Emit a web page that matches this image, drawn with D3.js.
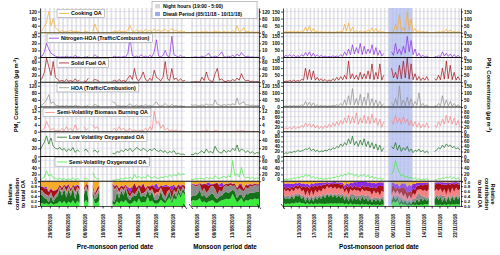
<!DOCTYPE html>
<html>
<head>
<meta charset="utf-8">
<script src="https://cdn.jsdelivr.net/npm/d3@7"></script>
<style>
body { margin: 0; background: #fff; }
text { font-family: Arial, "Liberation Sans", sans-serif; }
</style>
</head>
<body>
<svg class="chart" width="500" height="255"></svg>
<script>
// PMF factor time series, one value every 12 hours (null = no data).
// Pre-monsoon, from 26/05/2018 18:00
var preCOA = [8, 15, 35, 60, 120, 40, 80, 30, 18, 6,
    12, 5, 9, 4, 14, 6, 10, 5, 8, null,
    11, 4, 7, null, 9, 50, 12, 6, null, null,
    null, null, null, 5, 10, 4, 13, 6, 9, 5,
    15, 40, 10, 6, 18, 7, 12, 5, 20, 8,
    14, 6, 22, 9, 16, 7, 12, 20, 8, 11,
    25, 9, 14, 6, 10, 5, 8];
var preNHOA = [1, 2, 8, 20, 12, 6, 4, 2, 1, 0.5,
    1, 0.5, 2, 0.5, 1, 0.3, 3, 0.5, 1, null,
    1, 0.3, 2, null, 1, 4, 1, 0.5, null, null,
    null, null, null, 0.5, 2, 0.5, 1, 0.3, 1.5, 0.5,
    6, 28, 3, 1, 2, 0.5, 4, 1, 2, 0.5,
    3, 1, 8, 25, 2, 1, 3, 10, 2, 1,
    30, 4, 2, 1, 3, 0.5, 1];
var preSFOA = [5, 12, 30, 70, 45, 20, 60, 15, 8, 3,
    6, 2, 8, 3, 5, 2, 10, 3, 6, null,
    4, 2, 12, null, 5, 8, 6, 2, null, null,
    null, null, null, 3, 6, 2, 8, 3, 5, 2,
    12, 20, 8, 40, 10, 4, 15, 30, 8, 3,
    12, 5, 35, 14, 10, 4, 15, 60, 10, 5,
    40, 8, 12, 4, 10, 3, 6];
var preHOA = [8, 12, 25, 40, 70, 20, 30, 10, 8, 4,
    7, 3, 9, 4, 6, 3, 10, 4, 7, null,
    5, 3, 12, null, 6, 15, 8, 4, null, null,
    null, null, null, 30, 25, 6, 8, 4, 7, 3,
    10, 18, 8, 5, 12, 4, 9, 6, 14, 5,
    10, 4, 15, 30, 10, 5, 9, 20, 7, 4,
    15, 6, 9, 4, 8, 3, 5];
var preBBOA = [0.5, 1, 2, 6, 3, 1, 2, 0.5, 1, 0.3,
    2, 0.5, 3, 1, 2, 0.5, 4, 1, 2, null,
    3, 1, 2, null, 4, 2, 3, 1, null, null,
    null, null, null, 1, 2, 0.5, 3, 1, 2, 0.5,
    1, 2, 0.5, 1, 0.5, 0.3, 1, 0.5, 2, 0.5,
    3, 1, 12, 5, 6, 2, 4, 1, 2, 0.5,
    1, 0.5, 1, 0.3, 0.5, 0.2, 0.3];
var preLVOOA = [15, 25, 35, 50, 30, 45, 25, 20, 18, 22,
    15, 20, 12, 18, 14, 22, 10, 16, 12, null,
    14, 18, 10, null, 12, 16, 10, 14, null, null,
    null, null, null, 8, 6, 12, 10, 15, 12, 18,
    14, 20, 12, 16, 22, 18, 14, 20, 16, 12,
    18, 14, 20, 15, 12, 16, 10, 14, 8, 12,
    10, 14, 6, 8, 5, 6, 4];
var preSVOOA = [5, 8, 12, 30, 15, 20, 10, 8, 6, 9,
    5, 8, 4, 7, 5, 10, 4, 8, 5, null,
    6, 9, 5, null, 25, 12, 6, 8, null, null,
    null, null, null, 4, 3, 6, 5, 8, 6, 10,
    8, 12, 6, 20, 10, 15, 8, 12, 10, 18,
    12, 9, 14, 10, 8, 12, 10, 15, 12, 18,
    14, 20, 15, 25, 18, 22, 20];

// Monsoon, from 03/08/2018 18:00
var monCOA = [4, 2, 5, 3, 2, 6, 3, 8, 2, 5, 3, 10, 4, 6, 2, 8, 3, 5, 2, 12,
    4, 40, 6, 10, 30, 5, 8, 3, 6, 2, 4, 3];
var monNHOA = [0.5, 0.3, 1, 0.5, 0.3, 2, 0.5, 3, 6, 1, 0.5, 2, 1, 4, 8, 1, 0.5, 2, 1, 3,
    1, 5, 2, 7, 3, 1, 2, 0.5, 1, 0.3, 0.5, 0.3];
var monSFOA = [1, 0.5, 2, 1, 0.5, 15, 5, 30, 8, 4, 2, 25, 40, 6, 10, 3, 2, 5, 3, 8,
    4, 12, 6, 25, 10, 4, 6, 2, 3, 1, 2, 1];
var monHOA = [14, 9, 13, 8, 7, 12, 8, 18, 10, 14, 9, 40, 14, 11, 8, 14, 9, 15, 11, 18,
    12, 50, 14, 22, 30, 11, 13, 8, 11, 7, 9, 7];
var monBBOA = [0.2, 0.1, 0.3, 0.1, 0.1, 0.5, 0.2, 1, 0.3, 0.2, 0.1, 0.8, 0.5, 0.2, 0.3, 0.1, 0.1, 0.2, 0.1, 0.3,
    0.2, 0.5, 0.3, 0.6, 0.4, 0.2, 0.3, 0.1, 0.2, 0.1, 0.1, 0.1];
var monLVOOA = [5, 4, 8, 6, 10, 14, 8, 18, 10, 12, 8, 25, 14, 10, 8, 16, 10, 14, 12, 20,
    14, 28, 12, 18, 15, 10, 14, 8, 12, 6, 10, 8];
var monSVOOA = [6, 5, 8, 6, 9, 8, 6, 11, 8, 10, 7, 16, 10, 8, 11, 14, 10, 16, 12, 60,
    16, 22, 12, 40, 15, 10, 12, 8, 11, 7, 10, 8];

// Post-monsoon, from 09/10/2018 06:00
var postCOA = [3, 8, 4, 10, 5, 12, 4, 9, 3, 15,
    8, 40, 10, 50, 6, 30, 5, 12, 4, 8,
    3, 6, 2, 7, 3, 5, 2, 8, 4, 10,
    6, 60, 12, 70, 8, 40, 5, 15, 4, 12,
    3, 10, 5, 20, 6, 35, 8, 30, 5, 15,
    4, 10, null, null, null, 20, 8, 60, 15, 130,
    10, 40, 12, 150, 20, 100, 8, 30, 5, 15,
    4, 10, 3, 8, 2, null, null, 6, 3, 8,
    4, 12, 6, 25, 5, 20, 4, 10, 3, 8,
    4];
var postNHOA = [5, 15, 8, 20, 6, 18, 5, 12, 6, 20,
    10, 35, 12, 40, 8, 30, 6, 20, 5, 15,
    4, 10, 3, 8, 4, 12, 5, 10, 6, 20,
    8, 40, 15, 60, 20, 90, 25, 70, 30, 100,
    20, 80, 25, 60, 30, 90, 20, 70, 15, 50,
    10, 30, null, null, null, 40, 15, 100, 25, 60,
    20, 80, 30, 150, 40, 120, 20, 60, 10, 30,
    5, 15, 4, 10, 3, null, null, 8, 5, 12,
    6, 40, 10, 30, 8, 25, 5, 20, 4, 15,
    5];
var postSFOA = [4, 8, 6, 12, 5, 16, 6, 12, 8, 20,
    15, 100, 20, 90, 18, 80, 15, 35, 12, 25,
    8, 20, 6, 16, 8, 25, 12, 35, 15, 40,
    18, 50, 22, 150, 25, 60, 22, 50, 18, 70,
    22, 60, 25, 80, 22, 130, 18, 70, 22, 130,
    15, 50, null, null, null, 100, 30, 70, 22, 120,
    25, 150, 30, 170, 22, 130, 18, 60, 15, 40,
    12, 32, 15, 40, 12, null, null, 25, 15, 50,
    18, 100, 22, 150, 25, 120, 18, 70, 15, 40,
    15];
var postHOA = [4, 8, 5, 10, 4, 12, 5, 8, 6, 16,
    8, 40, 10, 35, 8, 30, 6, 16, 5, 12,
    4, 10, 3, 8, 5, 12, 6, 16, 8, 25,
    10, 50, 12, 80, 15, 130, 14, 60, 12, 90,
    10, 70, 12, 100, 10, 60, 8, 50, 6, 40,
    6, 25, null, null, null, 30, 8, 60, 12, 150,
    10, 50, 8, 70, 12, 60, 8, 40, 12, 100,
    6, 25, 5, 16, 4, null, null, 8, 6, 25,
    8, 80, 10, 50, 8, 40, 6, 25, 5, 16,
    5];
var postBBOA = [10, 15, 12, 18, 10, 22, 12, 18, 15, 25,
    18, 35, 22, 32, 18, 30, 15, 25, 12, 22,
    12, 25, 15, 30, 18, 35, 22, 40, 25, 45,
    30, 55, 35, 65, 32, 60, 35, 75, 30, 55,
    35, 65, 32, 60, 30, 70, 35, 55, 25, 50,
    18, 40, null, null, null, 45, 30, 65, 35, 55,
    30, 60, 35, 50, 25, 45, 22, 40, 18, 35,
    15, 30, 18, 35, 15, null, null, 25, 18, 40,
    25, 50, 30, 65, 35, 60, 30, 55, 25, 45,
    18];
var postLVOOA = [10, 15, 12, 18, 15, 20, 18, 25, 20, 22,
    25, 30, 28, 35, 22, 30, 20, 25, 18, 22,
    20, 25, 22, 30, 25, 35, 30, 40, 35, 50,
    40, 55, 45, 70, 50, 80, 45, 60, 40, 65,
    45, 70, 40, 60, 35, 55, 30, 50, 25, 45,
    20, 35, null, null, null, 40, 30, 55, 25, 45,
    20, 35, 25, 40, 20, 30, 15, 25, 20, 30,
    18, 25, 15, 22, 12, null, null, 20, 25, 35,
    30, 45, 35, 50, 40, 45, 35, 40, 30, 35,
    25];
var postSVOOA = [4, 6, 5, 8, 6, 10, 8, 12, 10, 15,
    12, 20, 15, 18, 10, 14, 8, 12, 6, 10,
    5, 8, 6, 10, 8, 12, 10, 15, 12, 18,
    15, 20, 18, 25, 20, 22, 15, 20, 12, 18,
    15, 20, 12, 18, 10, 15, 8, 12, 6, 10,
    5, 8, null, null, null, 20, 30, 60, 40, 25,
    15, 20, 10, 15, 8, 12, 6, 10, 5, 8,
    4, 6, 5, 8, 4, null, null, 5, 4, 8,
    6, 10, 8, 12, 10, 14, 8, 12, 6, 10,
    5];

var factors = ["COA", "NHOA", "SFOA", "HOA", "BBOA", "LVOOA", "SVOOA"];
var factorLabels = ["Cooking OA", "Nitrogen-HOA (Traffic/Combustion)", "Solid Fuel OA",
    "HOA (Traffic/Combustion)", "Semi-Volatility Biomass Burning OA",
    "Low Volatility Oxygenated OA", "Semi-Volatility Oxygenated OA"];
var factorColors = ["#f5ab2a", "#8a2be2", "#a50f15", "#8c8c8c", "#f58282", "#15701a", "#3cec3c"];
var stackOrder = ["SVOOA", "LVOOA", "HOA", "BBOA", "SFOA", "NHOA", "COA"];

// Y axis ticks, left block (pre-monsoon + monsoon) and right block (post-monsoon)
var leftTicks = [[0, 40, 80, 120], [0, 10, 20, 30], [0, 20, 40, 60], [0, 40, 80, 120], [0, 4, 8, 12], [0, 20, 40], [0, 20, 40, 60]];
var leftMax = [140, 35, 72, 140, 14.5, 60, 72];
var rightTicks = [[0, 50, 100, 150], [0, 50, 100, 150], [0, 50, 100, 150], [0, 50, 100, 150], [0, 20, 40, 60, 80], [0, 20, 40, 60, 80], [0, 20, 40, 60]];
var rightMax = [175, 175, 175, 175, 98, 98, 72];
var relTicks = [0, 0.2, 0.4, 0.6, 0.8, 1.0];

var diwali = [new Date(2018, 10, 5), new Date(2018, 10, 11)];

// Layout
var top0 = 8, rowH = 24.75;
var leftX = [40, 259], rightX = [283, 461];
var legendX = [57, 47, 57, 57, 43, 55, 55];
var fontFam = "Arial, 'Liberation Sans', sans-serif";

function rowTop(r) { return top0 + r * rowH; }
function rowBottom(r) { return top0 + (r + 1) * rowH; }

var periods = [
    {id: "pre", side: "left", x0: 40, x1: 185, start: new Date(2018, 4, 26, 18), end: new Date(2018, 5, 28, 18),
        first: new Date(2018, 4, 26, 18), anchor: new Date(2018, 4, 29),
        series: [preCOA, preNHOA, preSFOA, preHOA, preBBOA, preLVOOA, preSVOOA],
        title: "Pre-monsoon period date", titleX: 115},
    {id: "mon", side: "left", x0: 191, x1: 259, start: new Date(2018, 7, 3, 18), end: new Date(2018, 7, 19, 6),
        first: new Date(2018, 7, 3, 18), anchor: new Date(2018, 7, 5),
        series: [monCOA, monNHOA, monSFOA, monHOA, monBBOA, monLVOOA, monSVOOA],
        title: "Monsoon period date", titleX: 225},
    {id: "post", side: "right", x0: 283, x1: 461, start: new Date(2018, 9, 9, 0), end: new Date(2018, 10, 23, 12),
        first: new Date(2018, 9, 9, 6), anchor: new Date(2018, 9, 13),
        series: [postCOA, postNHOA, postSFOA, postHOA, postBBOA, postLVOOA, postSVOOA],
        title: "Post-monsoon period date", titleX: 379}
];

var svg = d3.select(".chart");
var defs = svg.append("defs");
var bgLayer = svg.append("g");
var gridLayer = svg.append("g");
var dataLayer = svg.append("g");
var axisLayer = svg.append("g");
var labelLayer = svg.append("g");

var fmtDate = d3.timeFormat("%d/%m/%Y");
var fmtRel = d3.format(".1f");

function yScale(side, r) {
    if (r === 7) return d3.scaleLinear().domain([0, 1]).range([rowBottom(r), rowTop(r)]);
    var max = side === "left" ? leftMax[r] : rightMax[r];
    return d3.scaleLinear().domain([0, max]).range([rowBottom(r), rowTop(r)]);
}

periods.forEach(function (p) {
    var x = d3.scaleTime().domain([p.start, p.end]).range([p.x0, p.x1]);
    var n = p.series[0].length;
    var times = d3.range(n).map(function (i) { return d3.timeHour.offset(p.first, 12 * i); });

    // Clip paths for the whole period and for each row
    defs.append("clipPath").attr("id", "clip-" + p.id).append("rect")
        .attr("x", p.x0).attr("y", top0).attr("width", p.x1 - p.x0).attr("height", rowH * 8);
    d3.range(8).forEach(function (r) {
        defs.append("clipPath").attr("id", "clip-" + p.id + "-" + r).append("rect")
            .attr("x", p.x0).attr("y", rowTop(r)).attr("width", p.x1 - p.x0).attr("height", rowH);
    });

    // Night hours 19:00 - 5:00
    var days = d3.timeDay.range(d3.timeDay.offset(d3.timeDay.floor(p.start), -1), p.end);
    bgLayer.append("g").attr("clip-path", "url(#clip-" + p.id + ")")
        .selectAll("rect")
        .data(days)
        .enter()
        .append("rect")
        .attr("x", function (d) { return x(d3.timeHour.offset(d, 19)); })
        .attr("width", function (d) { return x(d3.timeHour.offset(d, 29)) - x(d3.timeHour.offset(d, 19)); })
        .attr("y", top0)
        .attr("height", rowH * 8)
        .attr("fill", "#e3e3e3");

    // Diwali period
    if (p.id === "post") {
        bgLayer.append("rect")
            .attr("x", x(diwali[0])).attr("width", x(diwali[1]) - x(diwali[0]))
            .attr("y", top0).attr("height", rowH * 8)
            .attr("fill", "#a9b8f0").attr("opacity", 0.7);
    }

    // Horizontal grid lines
    d3.range(7).forEach(function (r) {
        var y = yScale(p.side, r);
        var ticks = p.side === "left" ? leftTicks[r] : rightTicks[r];
        gridLayer.selectAll(null)
            .data(ticks.filter(function (t) { return t > 0; }))
            .enter()
            .append("line")
            .attr("x1", p.x0).attr("x2", p.x1)
            .attr("y1", function (d) { return y(d); })
            .attr("y2", function (d) { return y(d); })
            .attr("stroke", "#cacaf2")
            .attr("stroke-width", 0.5);
    });

    // Concentration lines
    factors.forEach(function (f, k) {
        var y = yScale(p.side, k);
        var pts = times.map(function (t, i) { return {t: t, v: p.series[k][i]}; });
        var line = d3.line()
            .defined(function (d) { return d.v != null; })
            .x(function (d) { return x(d.t); })
            .y(function (d) { return y(d.v); });
        dataLayer.append("path")
            .attr("clip-path", "url(#clip-" + p.id + "-" + k + ")")
            .attr("d", line(pts))
            .attr("fill", "none")
            .attr("stroke", factorColors[k])
            .attr("stroke-width", 0.7);
    });

    // Relative contribution to total OA
    var rows = times.map(function (t, i) {
        var o = {t: t, gap: false}, total = 0;
        factors.forEach(function (f, k) {
            var v = p.series[k][i];
            if (v == null) o.gap = true;
            o[f] = v == null ? 0 : v;
            total += o[f];
        });
        factors.forEach(function (f) { o[f] = total > 0 ? o[f] / total : 0; });
        return o;
    });
    var yRel = yScale(p.side, 7);
    var area = d3.area()
        .defined(function (d) { return !d.data.gap; })
        .x(function (d) { return x(d.data.t); })
        .y0(function (d) { return yRel(d[0]); })
        .y1(function (d) { return yRel(d[1]); });
    dataLayer.append("g")
        .attr("clip-path", "url(#clip-" + p.id + "-7)")
        .selectAll("path")
        .data(d3.stack().keys(stackOrder)(rows))
        .enter()
        .append("path")
        .attr("d", area)
        .attr("fill", function (d) { return factorColors[factors.indexOf(d.key)]; });

    if (p.id === "post") {
        dataLayer.append("rect")
            .attr("x", x(diwali[0])).attr("width", x(diwali[1]) - x(diwali[0]))
            .attr("y", rowTop(7)).attr("height", rowH)
            .attr("fill", "#a9b8f0").attr("opacity", 0.3);
    }

    // Date axis: ticks every 2 days, labels every 4 days
    var tickDays = d3.timeDay.range(d3.timeDay.ceil(p.start), p.end).filter(function (d) {
        return Math.abs(Math.round((d - p.anchor) / 864e5)) % 2 === 0;
    });
    var xAxis = axisLayer.append("g")
        .attr("transform", "translate(0," + rowBottom(7) + ")")
        .call(d3.axisBottom(x)
            .tickValues(tickDays)
            .tickSize(2.5)
            .tickSizeOuter(0)
            .tickFormat(function (d) {
                var diff = Math.round((d - p.anchor) / 864e5);
                return diff >= 0 && diff % 4 === 0 ? fmtDate(d) : "";
            }));
    styleAxis(xAxis);
    xAxis.selectAll("text")
        .attr("transform", "rotate(-90)")
        .attr("x", -8)
        .attr("y", 0)
        .attr("dy", "0.35em")
        .style("text-anchor", "end");

    labelLayer.append("text")
        .attr("x", p.titleX).attr("y", 249)
        .attr("text-anchor", "middle")
        .attr("font-size", 6.3).attr("font-weight", "bold")
        .text(p.title);
});

function styleAxis(g) {
    g.attr("font-size", 4.8).attr("font-family", fontFam).attr("font-weight", "bold");
    g.selectAll("path, line").attr("stroke", "#000").attr("stroke-width", 0.7);
    g.selectAll("text").attr("fill", "#111");
}

// Y axes and panel dividers
d3.range(8).forEach(function (r) {
    var yl = yScale("left", r), yr = yScale("right", r);
    var tl = r === 7 ? relTicks : leftTicks[r];
    var tr = r === 7 ? relTicks : rightTicks[r];
    var fmt = r === 7 ? fmtRel : d3.format("d");
    var blank = function () { return ""; };
    var axes = [
        axisLayer.append("g").attr("transform", "translate(" + leftX[0] + ",0)")
            .call(d3.axisLeft(yl).tickValues(tl).tickSize(2).tickSizeOuter(0).tickPadding(1).tickFormat(fmt)),
        axisLayer.append("g").attr("transform", "translate(" + leftX[1] + ",0)")
            .call(d3.axisRight(yl).tickValues(r === 7 ? [] : tl).tickSize(2).tickSizeOuter(0).tickPadding(1).tickFormat(r === 7 ? blank : fmt)),
        axisLayer.append("g").attr("transform", "translate(" + rightX[0] + ",0)")
            .call(d3.axisLeft(yr).tickValues(r === 7 ? [] : tr).tickSize(2).tickSizeOuter(0).tickPadding(1).tickFormat(r === 7 ? blank : fmt)),
        axisLayer.append("g").attr("transform", "translate(" + rightX[1] + ",0)")
            .call(d3.axisRight(yr).tickValues(tr).tickSize(2).tickSizeOuter(0).tickPadding(1).tickFormat(fmt))
    ];
    axes.forEach(function (g) {
        styleAxis(g);
        if (r === 7) g.attr("font-size", 4.4);
        // keep the "1.0" of the relative panel and the "0" above it apart
        g.selectAll(".tick text").attr("dy", function (d) {
            if (r === 7 && d === 1) return "0.55em";
            if (r === 6 && d === 0) return "-0.25em";
            return "0.32em";
        });
    });

    if (r < 7) {
        [leftX, rightX].forEach(function (ex) {
            axisLayer.append("line")
                .attr("x1", ex[0]).attr("x2", ex[1])
                .attr("y1", rowBottom(r)).attr("y2", rowBottom(r))
                .attr("stroke", r === 0 ? "#5b4a14" : "#111")
                .attr("stroke-width", 1.1);
        });
    }
});

// Axis break marks
[185, 191, 259, 283].forEach(function (bx) {
    axisLayer.append("line")
        .attr("x1", bx - 2).attr("x2", bx + 2)
        .attr("y1", rowBottom(7) - 2).attr("y2", rowBottom(7) + 3)
        .attr("stroke", "#000").attr("stroke-width", 0.7);
});

// Factor legends
factors.forEach(function (f, k) {
    var lg = labelLayer.append("g")
        .attr("transform", "translate(" + legendX[k] + "," + (rowTop(k) + 1.2) + ")");
    var box = lg.append("rect")
        .attr("height", 8.5)
        .attr("fill", "#fff")
        .attr("stroke", "#888")
        .attr("stroke-width", 0.5);
    lg.append("line")
        .attr("x1", 2).attr("x2", 12).attr("y1", 4.25).attr("y2", 4.25)
        .attr("stroke", factorColors[k]).attr("stroke-width", 0.8);
    var t = lg.append("text")
        .attr("x", 14).attr("y", 6.3)
        .attr("font-size", 5.3).attr("font-weight", "bold")
        .text(factorLabels[k]);
    box.attr("width", t.node().getComputedTextLength() + 17);
});

// Night / Diwali legend
var topLegend = labelLayer.append("g").attr("transform", "translate(152,1.5)");
topLegend.append("rect")
    .attr("width", 105).attr("height", 17)
    .attr("fill", "#fff").attr("stroke", "#888").attr("stroke-width", 0.5);
topLegend.append("rect").attr("x", 3).attr("y", 2.6).attr("width", 5).attr("height", 4.2).attr("fill", "#d8d8d8");
topLegend.append("text").attr("x", 11).attr("y", 6.7)
    .attr("font-size", 5).attr("font-weight", "bold").text("Night hours (19:00 - 5:00)");
topLegend.append("rect").attr("x", 3).attr("y", 10.4).attr("width", 5).attr("height", 4.2).attr("fill", "#9aacee");
topLegend.append("text").attr("x", 11).attr("y", 14.5)
    .attr("font-size", 5).attr("font-weight", "bold").text("Diwali Period (05/11/18 - 10/11/18)");

// Axis titles
function concTitle(transform) {
    var t = labelLayer.append("text")
        .attr("transform", transform)
        .attr("text-anchor", "middle")
        .attr("font-size", 5.8).attr("font-weight", "bold");
    t.append("tspan").text("PM");
    t.append("tspan").attr("dy", 1.5).attr("font-size", 4).text("1");
    t.append("tspan").attr("dy", -1.5).text(" Concentration (µg m");
    t.append("tspan").attr("dy", -2).attr("font-size", 4).text("-3");
    t.append("tspan").attr("dy", 2).text(")");
}
concTitle("translate(18,95) rotate(-90)");
concTitle("translate(487,95) rotate(90)");

function relTitle(transform) {
    var t = labelLayer.append("text")
        .attr("transform", transform)
        .attr("text-anchor", "middle")
        .attr("font-size", 5.5).attr("font-weight", "bold");
    ["Relative", "contribution", "to total OA"].forEach(function (s, i) {
        t.append("tspan").attr("x", 0).attr("y", i * 6.5).text(s);
    });
}
relTitle("translate(12,194) rotate(-90)");
relTitle("translate(491,194) rotate(90)");
</script>
</body>
</html>
